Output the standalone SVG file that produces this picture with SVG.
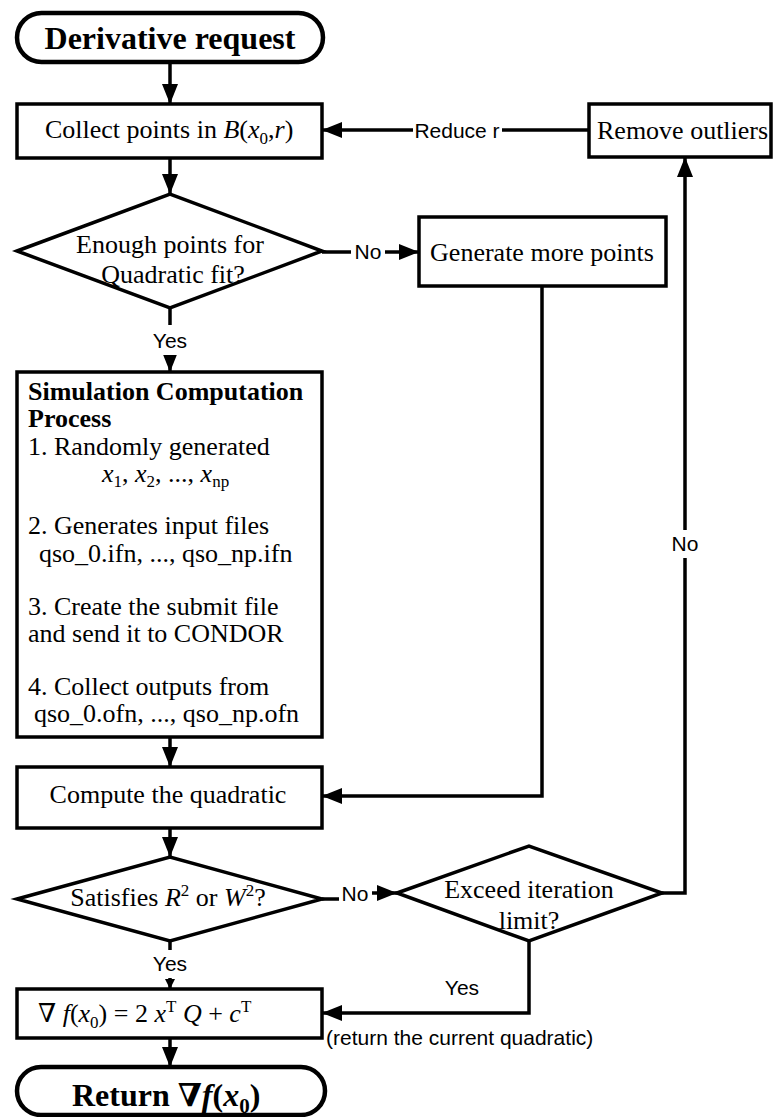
<svg xmlns="http://www.w3.org/2000/svg" width="773" height="1117" viewBox="0 0 773 1117">
<defs>
<marker id="arr" markerUnits="userSpaceOnUse" markerWidth="22" markerHeight="18" refX="20" refY="8" orient="auto">
<path d="M0,0 L20,8 L0,16 z" fill="#000"/>
</marker>
<marker id="arrS" markerUnits="userSpaceOnUse" markerWidth="12" markerHeight="12" refX="10" refY="5" orient="auto">
<path d="M0,0 L10,5 L0,10 z" fill="#000"/>
</marker>
<style>
.box{fill:#fff;stroke:#000;stroke-width:3.5}
.pill{fill:#fff;stroke:#000;stroke-width:4.5}
.t{font-family:"Liberation Serif","DejaVu Serif",serif;font-size:26px;fill:#000}
.tb{font-family:"Liberation Serif","DejaVu Serif",serif;font-size:32px;font-weight:bold;fill:#000}
.lbl{font-family:"Liberation Sans",Arial,sans-serif;font-size:21px;fill:#000}
.c{fill:none;stroke:#000;stroke-width:3.5}
.bg{fill:#fff;stroke:none}
.i{font-style:italic}
</style>
</defs>

<g id="connectors">
<path class="c" d="M170,62 V104" marker-end="url(#arr)"/>
<path class="c" d="M170,158 V194" marker-end="url(#arr)"/>
<path class="c" d="M589,130 H322" marker-end="url(#arr)"/>
<path class="c" d="M322,252 H419" marker-end="url(#arr)"/>
<path class="c" d="M170,308 V372" marker-end="url(#arr)"/>
<path class="c" d="M542,286 V796 H322" marker-end="url(#arr)"/>
<path class="c" d="M170,737 V767" marker-end="url(#arr)"/>
<path class="c" d="M170,828 V857" marker-end="url(#arr)"/>
<path class="c" d="M322,899 H350 V893 H397" marker-end="url(#arr)"/>
<path class="c" d="M662,893 H685 V157" marker-end="url(#arr)"/>
<path class="c" d="M529,941 V1013 H322" marker-end="url(#arr)"/>
<path class="c" d="M170,941 V989" marker-end="url(#arrS)"/>
<path class="c" d="M170,1038 V1067" marker-end="url(#arr)"/>
<rect class="bg" x="413" y="119" width="89" height="24"/>
<text class="lbl" x="457" y="138" text-anchor="middle">Reduce r</text>
<rect class="bg" x="351" y="240" width="34" height="24"/>
<text class="lbl" x="368" y="259" text-anchor="middle">No</text>
<rect class="bg" x="150" y="325" width="40" height="30"/>
<text class="lbl" x="170" y="348" text-anchor="middle">Yes</text>
<rect class="bg" x="339" y="882" width="33" height="23"/>
<text class="lbl" x="355" y="901" text-anchor="middle">No</text>
<rect class="bg" x="670" y="530" width="30" height="28"/>
<text class="lbl" x="685" y="551" text-anchor="middle">No</text>
<text class="lbl" x="462" y="995" text-anchor="middle">Yes</text>
<rect class="bg" x="150" y="950" width="40" height="28"/>
<text class="lbl" x="170" y="971" text-anchor="middle">Yes</text>
<text class="lbl" x="326" y="1045">(return the current quadratic)</text>
</g>

<g id="start">
<rect class="pill" x="17" y="13" width="306" height="49" rx="24.5" ry="24.5"/>
<text class="tb" x="170" y="49" text-anchor="middle">Derivative request</text>
</g>

<g id="collect">
<rect class="box" x="17" y="104" width="305" height="54"/>
<text class="t" x="45" y="138">Collect points in <tspan class="i">B</tspan>(<tspan class="i">x</tspan><tspan font-size="17" dy="6">0</tspan><tspan dy="-6">,</tspan><tspan class="i">r</tspan>)</text>
</g>

<g id="remove">
<rect class="box" x="589" y="104" width="182" height="53"/>
<text class="t" x="597" y="139">Remove outliers</text>
</g>

<g id="enough">
<polygon class="box" points="17,251 170,194 322,251 170,308"/>
<text class="t" x="170" y="253" text-anchor="middle">Enough points for</text>
<text class="t" x="173" y="283" text-anchor="middle">Quadratic fit?</text>
</g>

<g id="generate">
<rect class="box" x="419" y="217" width="247" height="69"/>
<text class="t" x="542" y="261" text-anchor="middle">Generate more points</text>
</g>

<g id="simulation">
<rect class="box" x="17" y="372" width="305" height="365"/>
<text class="t" font-weight="bold" x="28" y="400">Simulation Computation</text>
<text class="t" font-weight="bold" x="28" y="427">Process</text>
<text class="t" x="28" y="455">1. Randomly generated</text>
<text class="t" x="102" y="482"><tspan class="i">x</tspan><tspan font-size="17" dy="5">1</tspan><tspan dy="-5">, </tspan><tspan class="i">x</tspan><tspan font-size="17" dy="5">2</tspan><tspan dy="-5">, ..., </tspan><tspan class="i">x</tspan><tspan font-size="17" dy="5">np</tspan></text>
<text class="t" x="28" y="534">2. Generates input files</text>
<text class="t" x="39" y="562">qso_0.ifn, ..., qso_np.ifn</text>
<text class="t" x="28" y="615">3. Create the submit file</text>
<text class="t" x="28" y="642">and send it to CONDOR</text>
<text class="t" x="28" y="695">4. Collect outputs from</text>
<text class="t" x="34" y="722">qso_0.ofn, ..., qso_np.ofn</text>
</g>

<g id="compute">
<rect class="box" x="17" y="767" width="305" height="61"/>
<text class="t" x="168" y="803" text-anchor="middle">Compute the quadratic</text>
</g>

<g id="satisfies">
<polygon class="box" points="17,899 170,857 322,899 170,941"/>
<text class="t" x="168" y="906" text-anchor="middle">Satisfies <tspan class="i">R</tspan><tspan font-size="17" dy="-10">2</tspan><tspan dy="10"> or </tspan><tspan class="i">W</tspan><tspan font-size="17" dy="-10">2</tspan><tspan dy="10">?</tspan></text>
</g>

<g id="exceed">
<polygon class="box" points="397,893 529,846 662,893 529,941"/>
<text class="t" x="529" y="898" text-anchor="middle">Exceed iteration</text>
<text class="t" x="529" y="929" text-anchor="middle">limit?</text>
</g>

<g id="gradient">
<rect class="box" x="17" y="989" width="305" height="49"/>
<text class="t" x="38" y="1022">∇ <tspan class="i">f</tspan>(<tspan class="i">x</tspan><tspan font-size="17" dy="6">0</tspan><tspan dy="-6">) = 2 </tspan><tspan class="i">x</tspan><tspan font-size="17" dy="-10">T</tspan><tspan dy="10"> </tspan><tspan class="i">Q</tspan> + <tspan class="i">c</tspan><tspan font-size="17" dy="-10">T</tspan></text>
</g>

<g id="return">
<rect class="pill" x="17" y="1067" width="308" height="48" rx="24" ry="24"/>
<text class="tb" x="72" y="1106">Return ∇<tspan class="i">f</tspan>(<tspan class="i">x</tspan><tspan font-size="21" dy="7">0</tspan><tspan dy="-7">)</tspan></text>
</g>
</svg>
